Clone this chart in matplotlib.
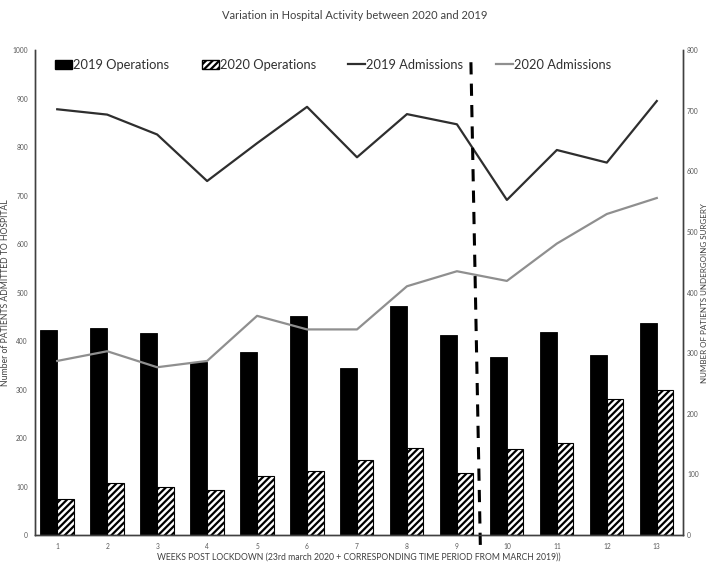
import matplotlib
matplotlib.use("Agg")
import matplotlib.pyplot as plt
from matplotlib.patches import Patch
from matplotlib.lines import Line2D

plt.rcParams['font.family'] = ['Lato', 'DejaVu Sans']
plt.rcParams['hatch.linewidth'] = 1.6

weeks = [1, 2, 3, 4, 5, 6, 7, 8, 9, 10, 11, 12, 13]
ops_2019 = [338, 341, 334, 286, 302, 361, 275, 378, 330, 294, 335, 297, 349]
ops_2020 = [59, 86, 79, 75, 98, 106, 124, 144, 103, 142, 152, 225, 239]
adm_2019 = [878, 867, 826, 730, 808, 883, 779, 868, 847, 691, 794, 768, 895]
adm_2020 = [359, 379, 346, 359, 452, 424, 424, 513, 544, 524, 601, 662, 695]

fig = plt.figure(figsize=(7.09, 5.63), dpi=100)
ax = fig.add_axes([0.049, 0.0497, 0.914, 0.8613])
ax2 = ax.twinx()

# bars on the right (surgery) axis
ax2.bar([w - 0.34 for w in weeks], ops_2019, width=0.34, align='edge',
        color='black', edgecolor='black', linewidth=0.6, zorder=2)
ax2.bar(weeks, ops_2020, width=0.33, align='edge', color='white',
        edgecolor='black', hatch='/////', linewidth=0.8, zorder=2)
ax2.set_ylim(0, 800)

# admissions lines on the left axis, drawn above the bars
ax.set_zorder(ax2.get_zorder() + 1)
ax.patch.set_visible(False)
ax.plot(weeks, adm_2019, color='#2e2e2e', lw=1.6)
ax.plot(weeks, adm_2020, color='#8f8f8f', lw=1.6)
ax.set_ylim(0, 1000)
ax.set_xlim(0.55, 13.52)

# lockdown marker (slightly slanted as in the source)
ax.plot([9.28, 9.47], [975, -30], color='black', lw=2.2,
        dashes=(4, 3), clip_on=False)

ax.set_xticks(weeks)
ax.set_yticks(range(0, 1001, 100))
ax2.set_yticks(range(0, 801, 100))
for a in (ax, ax2):
    a.tick_params(length=0, labelsize=4.8, colors='#595959', pad=5)
    a.spines['top'].set_visible(False)
    for s in ('left', 'right', 'bottom'):
        a.spines[s].set_color('#404040')
        a.spines[s].set_linewidth(1.0)
ax.tick_params(axis='x', pad=6)
ax2.tick_params(axis='y', pad=3)

fig.text(0.0075, 0.48, 'Number of PATIENTS ADMITTED TO HOSPITAL', fontsize=6.2,
         color='#404040', rotation=90, ha='center', va='center')
fig.text(0.993, 0.48, 'NUMBER OF PATIENTS UNDERGOING SURGERY', fontsize=5.8,
         color='#404040', rotation=90, ha='center', va='center')
ax.set_xlabel('WEEKS POST LOCKDOWN (23rd march 2020 + CORRESPONDING TIME PERIOD FROM MARCH 2019))',
              fontsize=6.2, color='#404040')
ax.xaxis.set_label_coords(0.5, -0.037)

fig.text(0.5, 0.972, 'Variation in Hospital Activity between 2020 and 2019',
         ha='center', va='center', fontsize=8, color='#404040')

handles = [
    Patch(facecolor='black', edgecolor='black'),
    Patch(facecolor='white', edgecolor='black', hatch='/////'),
    Line2D([], [], color='#2e2e2e', lw=1.6),
    Line2D([], [], color='#8f8f8f', lw=1.6),
]
labels = ['2019 Operations', '2020 Operations', '2019 Admissions', '2020 Admissions']
fig.legend(handles, labels, loc='center', bbox_to_anchor=(0.470, 0.885), ncol=4,
           frameon=False, fontsize=9.3, handlelength=1.3, handletextpad=0.1,
           columnspacing=2.5, labelcolor='#303030')

fig.savefig('out.png', dpi=100)
